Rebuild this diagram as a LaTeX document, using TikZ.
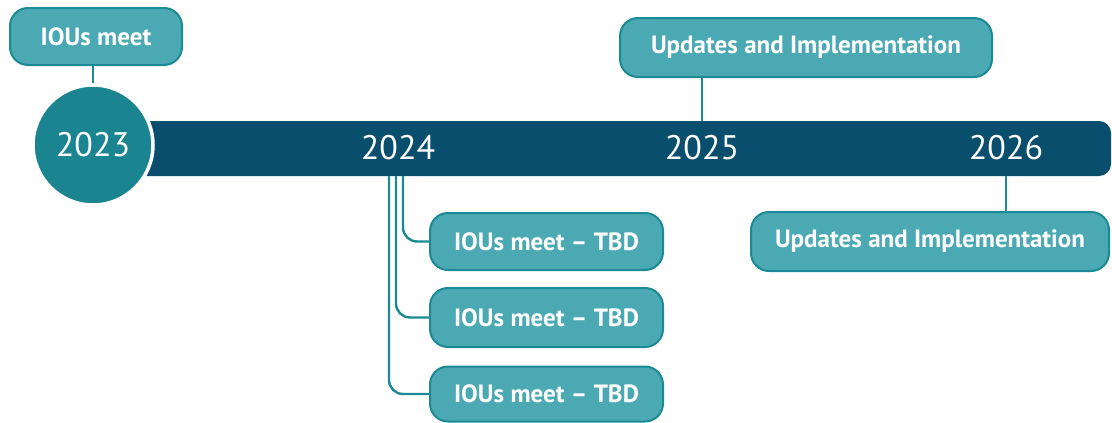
\documentclass[tikz,border=0pt]{standalone}
\usepackage{fontspec}
\setmainfont{PT Sans}
\usetikzlibrary{positioning}

\definecolor{barblue}{HTML}{0A4E6E}
\definecolor{circteal}{HTML}{1A8591}
\definecolor{boxteal}{HTML}{4BA9B3}
\definecolor{lineteal}{HTML}{1B8A95}

\tikzset{
  event/.style={draw=lineteal, line width=2pt, fill=boxteal, rounded corners=18pt,
        text=white, font=\bfseries\fontsize{25}{28}\selectfont,
        minimum height=57pt, inner sep=0pt},
  yeartext/.style={text=white, font=\fontsize{34}{40}\selectfont, inner sep=0pt},
  link/.style={lineteal, line width=2.4pt},
}

\begin{document}
\begin{tikzpicture}[x=1pt, y=-1pt]
\useasboundingbox (0,0) rectangle (1112,423);

% timeline bar
\node[fill=barblue, rounded corners=12pt, minimum width=992pt, minimum height=55pt,
      inner sep=0pt] (bar) at (615,148.5) {};
\node[circle, fill=circteal, draw=white, line width=3.5pt, minimum size=120pt,
      inner sep=0pt, yeartext] (yr23) at (93,145) {2023};

\node[yeartext] (yr24) at (398,148) {2024};
\node[yeartext] (yr25) at (702,148) {2025};
\node[yeartext] (yr26) at (1006,148) {2026};

% events
\node[event, minimum width=172pt] (meet23) at (96,36.5) {IOUs meet};
\node[event, minimum width=372pt, minimum height=59pt] (upd25) at (806,47.5) {Updates and Implementation};
\node[event, minimum width=358pt, minimum height=59pt] (upd26) at (930,241.5) {Updates and Implementation};

\node[event, minimum width=233pt] (tbd1) at (546.5,241.5) {IOUs meet -- TBD};
\node[event, minimum width=233pt, minimum height=59pt] (tbd2) at (546.5,317.5) {IOUs meet -- TBD};
\node[event, minimum width=233pt, minimum height=55pt] (tbd3) at (546.5,394) {IOUs meet -- TBD};

% connectors
\draw[link] (meet23.south -| yr23) -- (yr23.north);
\draw[link] (upd25.south -| yr25) -- (yr25 |- bar.north);
\draw[link] (yr26 |- bar.south) -- (upd26.north -| yr26);

\coordinate (br1) at (403,176);
\coordinate (br2) at (396,176);
\coordinate (br3) at (389,176);
\draw[link, rounded corners=14pt] (br1) |- (tbd1.west);
\draw[link, rounded corners=14pt] (br2) |- (tbd2.west);
\draw[link, rounded corners=14pt] (br3) |- (tbd3.west);
\end{tikzpicture}
\end{document}
